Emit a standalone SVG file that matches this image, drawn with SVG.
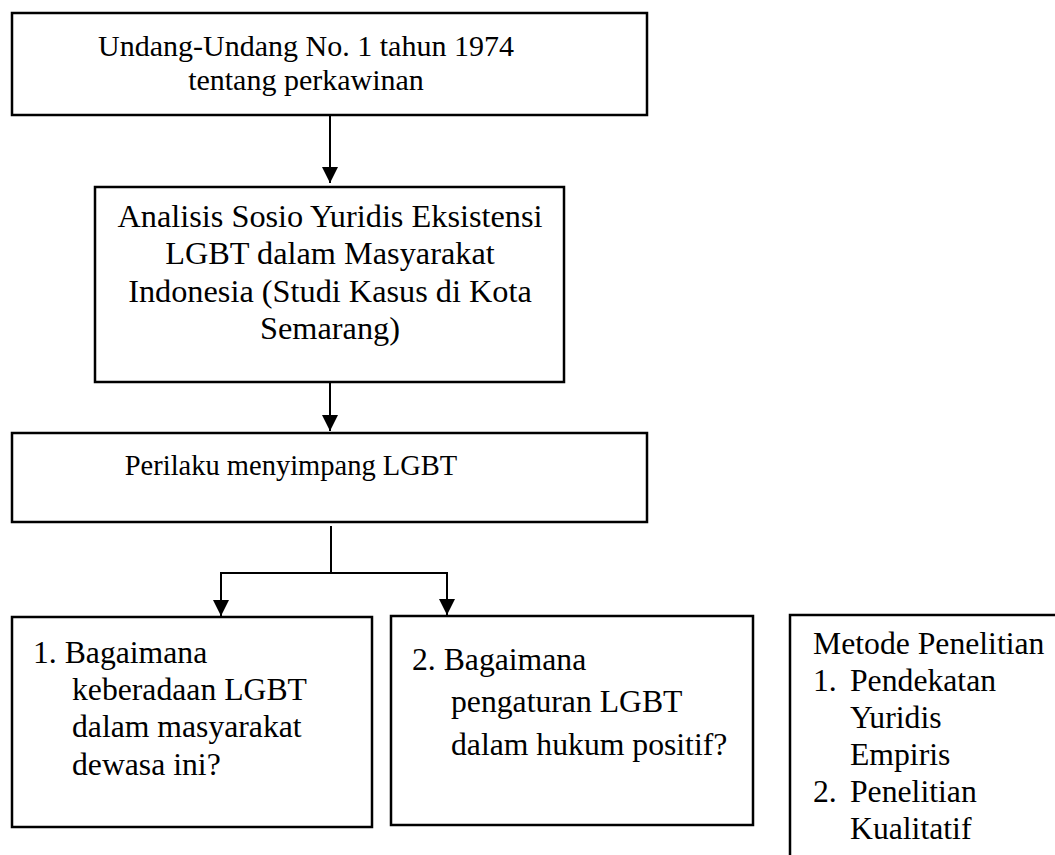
<svg xmlns="http://www.w3.org/2000/svg" width="1055" height="855" viewBox="0 0 1055 855">
<style>
.box{fill:#fff;stroke:#000;stroke-width:2.5}
.t{font-family:"Liberation Serif","Times New Roman",serif;fill:#000;font-size:31.7px}
.c{text-anchor:middle}
.ln{fill:none;stroke:#000;stroke-width:2}
</style>
<defs>
<marker id="ah" markerUnits="userSpaceOnUse" markerWidth="16" markerHeight="16" refX="16" refY="8" orient="auto">
<path d="M0,0 L16,8 L0,16 z" fill="#000"/>
</marker>
</defs>
<rect width="1055" height="855" fill="#fff"/>
<g id="connectors">
<line class="ln" x1="330" y1="115" x2="330" y2="183" marker-end="url(#ah)"/>
<line class="ln" x1="330" y1="382" x2="330" y2="431" marker-end="url(#ah)"/>
<line class="ln" x1="331" y1="526" x2="331" y2="573"/>
<line class="ln" x1="220" y1="573" x2="448" y2="573"/>
<line class="ln" x1="221" y1="573" x2="221" y2="616" marker-end="url(#ah)"/>
<line class="ln" x1="447" y1="573" x2="447" y2="615" marker-end="url(#ah)"/>
</g>
<g id="n1">
<rect class="box" x="12" y="13" width="635" height="102"/>
<text class="t c" x="306" y="56" style="font-size:30px">Undang-Undang No. 1 tahun 1974</text>
<text class="t c" x="306" y="90" style="font-size:30px">tentang perkawinan</text>
</g>
<g id="n2">
<rect class="box" x="95" y="187" width="469" height="195"/>
<text class="t c" x="330" y="227" style="font-size:32.3px">Analisis Sosio Yuridis Eksistensi</text>
<text class="t c" x="330" y="264" style="font-size:32.3px">LGBT dalam Masyarakat</text>
<text class="t c" x="330" y="302" style="font-size:32.3px">Indonesia (Studi Kasus di Kota</text>
<text class="t c" x="330" y="339" style="font-size:32.3px">Semarang)</text>
</g>
<g id="n3">
<rect class="box" x="12" y="433" width="635" height="89"/>
<text class="t c" x="291" y="475" style="font-size:28.5px">Perilaku menyimpang LGBT</text>
</g>
<g id="n4">
<rect class="box" x="12" y="617" width="360" height="210"/>
<text class="t" x="33" y="663">1. Bagaimana</text>
<text class="t" x="72" y="700">keberadaan LGBT</text>
<text class="t" x="72" y="737">dalam masyarakat</text>
<text class="t" x="72" y="775">dewasa ini?</text>
</g>
<g id="n5">
<rect class="box" x="391" y="616" width="362" height="209"/>
<text class="t" x="412" y="670">2. Bagaimana</text>
<text class="t" x="451" y="712">pengaturan LGBT</text>
<text class="t" x="451" y="755">dalam hukum positif?</text>
</g>
<g id="n6">
<rect class="box" x="790" y="615" width="290" height="270"/>
<text class="t" x="813" y="654">Metode Penelitian</text>
<text class="t" x="813" y="691">1.</text>
<text class="t" x="850" y="691">Pendekatan</text>
<text class="t" x="850" y="728">Yuridis</text>
<text class="t" x="850" y="765">Empiris</text>
<text class="t" x="813" y="802">2.</text>
<text class="t" x="850" y="802">Penelitian</text>
<text class="t" x="850" y="839">Kualitatif</text>
</g>
</svg>
